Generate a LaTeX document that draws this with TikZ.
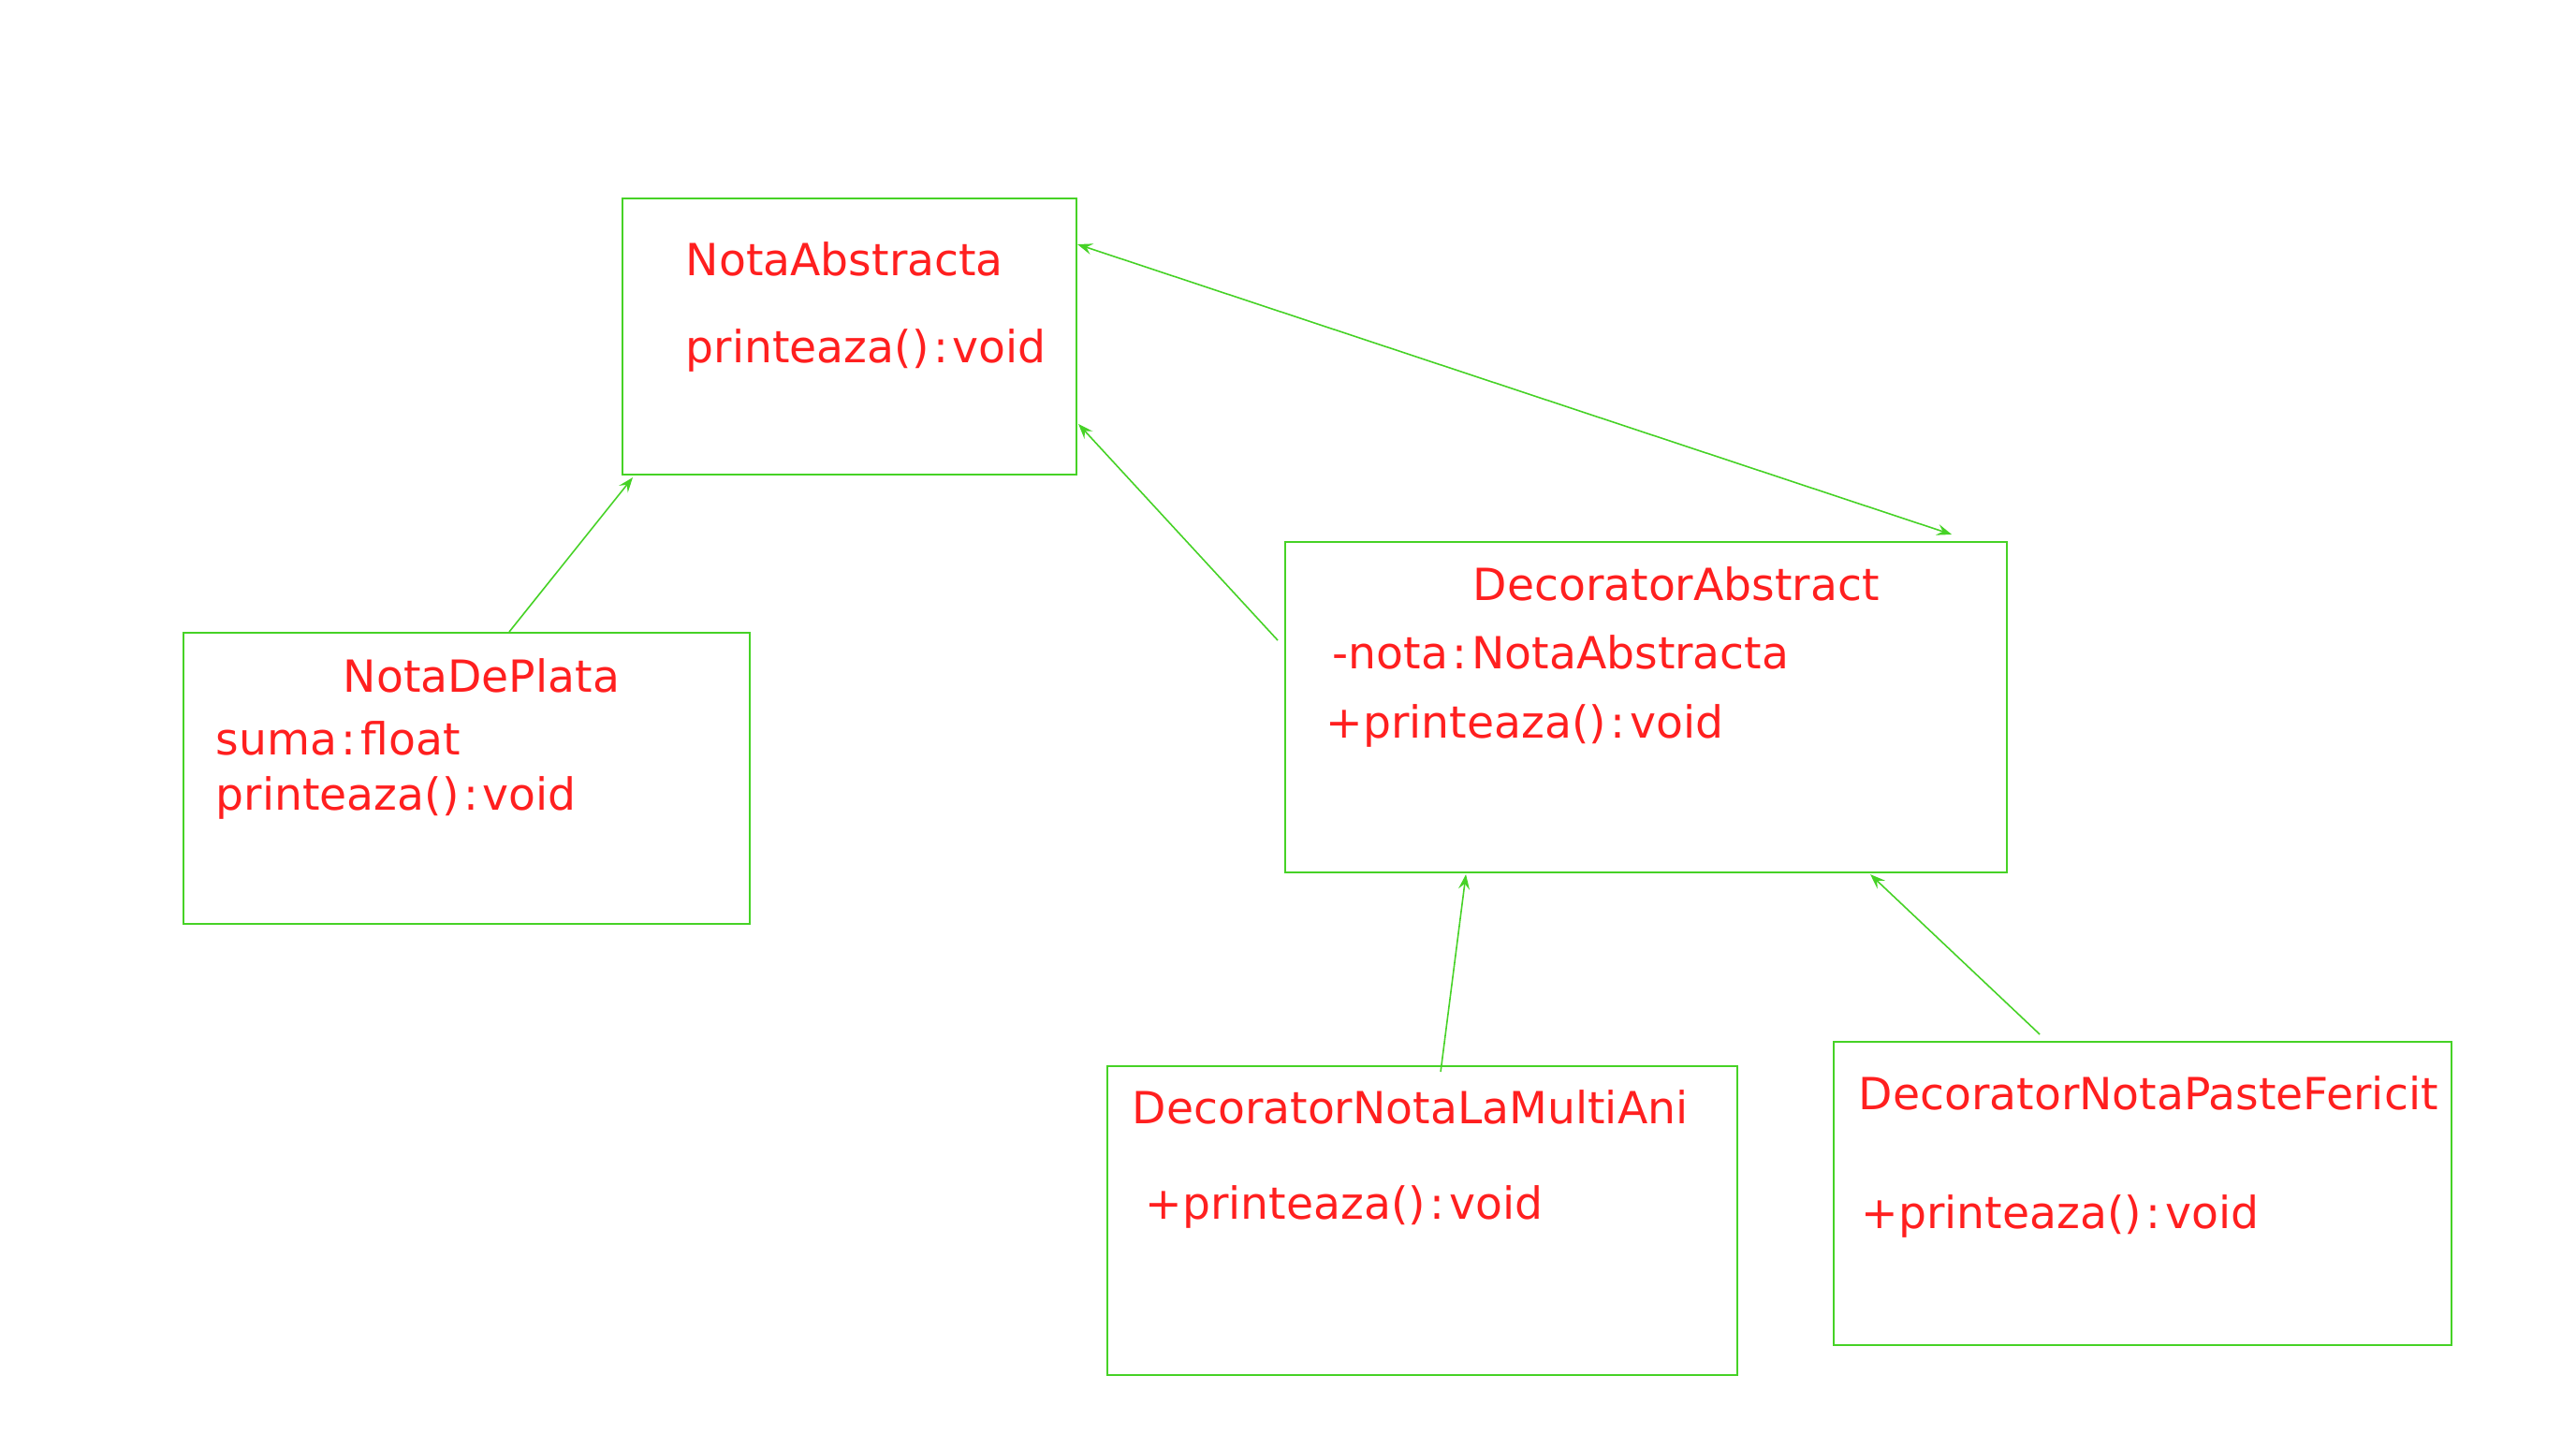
\documentclass[tikz,border=0pt]{standalone}
\usepackage{fontspec}
\setmainfont{DejaVu Sans}
\usepackage{tikz}
\usepackage{xcolor}
\usetikzlibrary{arrows.meta}
\definecolor{umlgreen}{HTML}{46D226}
\definecolor{umlred}{HTML}{FF1F1F}
\newcommand{\typesep}{\kern1.3pt:\kern1.3pt}

\begin{document}
\begin{tikzpicture}[
    classbox/.style={draw=umlgreen, line width=0.6pt, anchor=north west, inner sep=0pt},
    member/.style={text=umlred, anchor=base west, inner sep=0pt, font=\fontsize{13.45pt}{16pt}\selectfont},
    >={Stealth[length=1.6mm, width=1.2mm, inset=0.6mm]},
    every edge/.style={draw=umlgreen, line width=0.45pt}
  ]
        \fill[white] (0,0) rectangle (27.52,15.48);
        \useasboundingbox (0,0) rectangle (27.52,15.48);
        % Abstract note
        \node[classbox, minimum width=4.85cm, minimum height=2.95cm] (NA) at (6.64, 13.37) {};
        \node[member] (NAname) at (7.32, 12.53) {NotaAbstracta};
        \node[member] (NAop) at (7.32, 11.60) {printeaza()\typesep void};
        % Silver note
        \node[classbox, minimum width=6.05cm, minimum height=3.11cm] (NDP) at (1.95, 8.73) {};
        \node[member] (NDPname) at (3.66, 8.08) {NotaDePlata};
        \node[member] (NDPattr) at (2.30, 7.41) {suma\typesep float};
        \node[member] (NDPop) at (2.30, 6.82) {printeaza()\typesep void};
        % Abstract decorator
        \node[classbox, minimum width=7.71cm, minimum height=3.53cm] (DA) at (13.72, 9.70) {};
        \node[member] (DAname) at (15.73, 9.06) {DecoratorAbstract};
        \node[member] (DAattr) at (14.23, 8.33) {-nota\typesep NotaAbstracta};
        \node[member] (DAop) at (14.16, 7.59) {+printeaza()\typesep void};
        % Birthday decorator
        \node[classbox, minimum width=6.73cm, minimum height=3.30cm] (DLMA) at (11.82, 4.10) {};
        \node[member] (DLMAname) at (12.09, 3.47) {DecoratorNotaLaMultiAni};
        \node[member] (DLMAop) at (12.23, 2.45) {+printeaza()\typesep void};
        % Easter decorator
        \node[classbox, minimum width=6.60cm, minimum height=3.24cm] (DPF) at (19.58, 4.36) {};
        \node[member] (DPFname) at (19.85, 3.62) {DecoratorNotaPasteFericit};
        \node[member] (DPFop) at (19.88, 2.35) {+printeaza()\typesep void};
        % Arrows
        \path[->] ([xshift=4.55mm]NDP.north) edge ([xshift=1.2mm, yshift=-0.2mm]NA.south west);
        \path[->] ([xshift=-0.7mm, yshift=7.15mm]DA.west) edge ([xshift=0.1mm, yshift=-9.35mm]NA.east);
        \path[<->] ([yshift=9.85mm]NA.east) edge ([xshift=32.65mm, yshift=0.7mm]DA.north);
        \path[->] ([xshift=1.95mm, yshift=-0.7mm]DLMA.north) edge ([xshift=-19.25mm, yshift=-0.1mm]DA.south);
        \path[->] ([xshift=-11mm, yshift=0.7mm]DPF.north) edge ([xshift=23.95mm, yshift=-0.1mm]DA.south);
    \end{tikzpicture}
\end{document}
